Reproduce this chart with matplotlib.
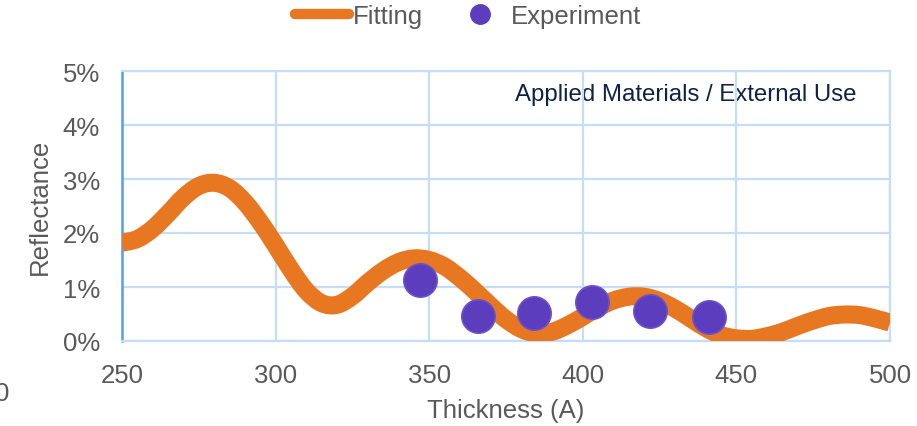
import numpy as np
import matplotlib
matplotlib.use('Agg')
import matplotlib.pyplot as plt
from matplotlib.lines import Line2D
from matplotlib.path import Path
from matplotlib.patches import PathPatch
from matplotlib.ticker import FuncFormatter

plt.rcParams['font.family'] = ['Liberation Sans', 'DejaVu Sans']

# fitted curve (thickness in A, reflectance in %)
fit_x = [250, 255, 260, 265, 270, 275, 280, 285, 290, 295,
         300, 305, 310, 315, 320, 325, 330, 335, 340, 345,
         350, 355, 360, 365, 370, 375, 380, 385, 390, 395,
         400, 405, 410, 415, 420, 425, 430, 435, 440, 445,
         450, 455, 460, 465, 470, 475, 480, 485, 490, 495, 500]
fit_y = [1.82, 1.89, 2.08, 2.36, 2.66, 2.87, 2.93, 2.83, 2.57, 2.20,
         1.77, 1.32, 0.93, 0.70, 0.67, 0.83, 1.08, 1.30, 1.46, 1.53,
         1.50, 1.38, 1.17, 0.92, 0.65, 0.40, 0.22, 0.14, 0.17, 0.29,
         0.45, 0.62, 0.75, 0.82, 0.82, 0.74, 0.60, 0.42, 0.24, 0.11,
         0.05, 0.04, 0.09, 0.17, 0.28, 0.38, 0.46, 0.49, 0.48, 0.42, 0.34]

# measured points
exp_x = [347, 366, 384, 403, 422, 441]
exp_y = [1.13, 0.47, 0.52, 0.73, 0.56, 0.44]

x_ticks = [250, 300, 350, 400, 450, 500]
y_ticks = [0, 1, 2, 3, 4, 5]

orange = '#E87722'
purple = '#5B3DBE'
grey = '#595959'
gridc = '#C6DDF6'


def smooth_path(xs, ys):
    # smoothed line like the spreadsheet draws it: bezier segments through the points
    p = np.column_stack([xs, ys]).astype(float)
    pts = [p[0]]
    codes = [Path.MOVETO]
    n = len(p)
    for i in range(n - 1):
        p0 = p[i - 1] if i > 0 else p[i]
        p3 = p[i + 2] if i + 2 < n else p[i + 1]
        c1 = p[i] + (p[i + 1] - p0) / 6
        c2 = p[i + 1] - (p3 - p[i]) / 6
        pts += [c1, c2, p[i + 1]]
        codes += [Path.CURVE4] * 3
    return Path(pts, codes)


fig = plt.figure(figsize=(9.17, 4.27), dpi=100)
ax = fig.add_axes([122/917, 85/427, 768/917, 270/427])

ax.add_patch(PathPatch(smooth_path(fit_x, fit_y), fill=False, edgecolor=orange,
                       lw=13, capstyle='butt', joinstyle='round', zorder=3))
ax.plot(exp_x, exp_y, 'o', ms=24, color=purple, mec='#6B52C8', mew=1.2, zorder=4)

ax.set_xlim(250, 500)
ax.set_ylim(0, 5)
ax.set_xticks(x_ticks)
ax.set_yticks(y_ticks)
ax.yaxis.set_major_formatter(FuncFormatter(lambda v, p: '%d%%' % v))
ax.tick_params(length=0, labelsize=18.5, labelcolor=grey)
ax.tick_params(axis='x', pad=16)
ax.tick_params(axis='y', pad=16)

ax.grid(True, color=gridc, lw=1.6)
ax.set_axisbelow(True)
for s in ['top', 'right', 'bottom']:
    ax.spines[s].set_color(gridc)
    ax.spines[s].set_linewidth(1.6)
ax.spines['left'].set_color('#5B9BEB')
ax.spines['left'].set_linewidth(1.8)

ax.set_xlabel('Thickness (A)', fontsize=18.5, color=grey, labelpad=8)
ax.set_ylabel('Reflectance', fontsize=18.5, color=grey, labelpad=8)

ax.text(0.957, 0.915, 'Applied Materials / External Use', transform=ax.transAxes,
        ha='right', va='center', fontsize=17.3, color='#0F2147', zorder=0.1)

handles = [Line2D([], [], color=orange, lw=7.5, solid_capstyle='round'),
           Line2D([], [], marker='o', ls='none', ms=14, color=purple)]
fig.legend(handles, ['Fitting', 'Experiment'], loc='center',
           bbox_to_anchor=(468/917, 1 - 17/427), ncol=2, frameon=False,
           fontsize=18.5, labelcolor=grey, handlelength=2.1,
           handletextpad=0.15, columnspacing=1.2, borderpad=0)

# cut-off label at the left border
fig.text(9/917, 1 - 394/427, '0', ha='right', va='center', fontsize=18.5, color=grey)

fig.savefig('out.png', dpi=100)
